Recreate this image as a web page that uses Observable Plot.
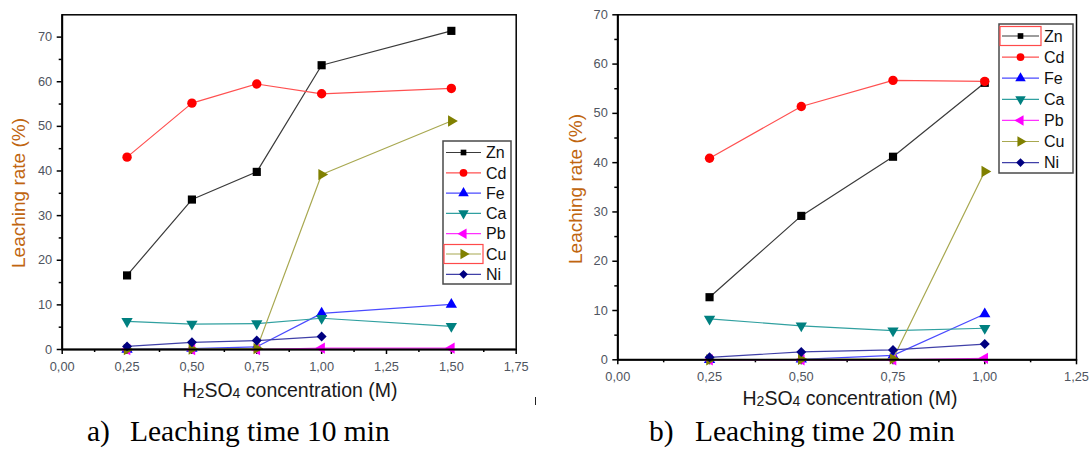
<!DOCTYPE html>
<html><head><meta charset="utf-8">
<script src="https://cdn.jsdelivr.net/npm/d3@7"></script>
<script src="https://cdn.jsdelivr.net/npm/@observablehq/plot@0.6"></script>
<style>
body{margin:0;background:#fff;}
#root{position:relative;width:1092px;height:450px;overflow:hidden;background:#fff;font-family:"Liberation Sans",Arial,sans-serif;}
.xlab{position:absolute;font-size:19.5px;color:#1a1a1a;white-space:nowrap;transform:translate(-50%,-50%);}
.xlab sub{font-size:0.72em;vertical-align:-0.08em;}
.ylab{position:absolute;font-size:19px;color:#c0650f;white-space:nowrap;transform:translate(-50%,-50%) rotate(-90deg);}
.cap{position:absolute;font-family:"Liberation Serif","Times New Roman",serif;font-size:29.5px;line-height:29.5px;color:#000;white-space:nowrap;}
</style></head><body><div id="root"></div>
<script>
// ---------- data ----------
const elements = ["Zn","Cd","Fe","Ca","Pb","Cu","Ni"];

const conc10 = [0.25, 0.5, 0.75, 1.0, 1.5];
const zn10 = [16.6, 33.6, 39.8, 63.7, 71.4];
const cd10 = [43.1, 55.2, 59.5, 57.3, 58.5];
const fe10 = [0.0, 0.2, 0.6, 8.1, 10.1];
const ca10 = [6.3, 5.7, 5.8, 7.0, 5.2];
const pb10 = [0.0, 0.0, 0.0, 0.3, 0.3];
const cu10 = [0.0, 0.1, 0.2, 39.2, 51.2];
const ni10 = [0.7, 1.6, 2.0, 2.9, null];

const conc20 = [0.25, 0.5, 0.75, 1.0];
const zn20 = [12.7, 29.2, 41.2, 56.2];
const cd20 = [40.9, 51.4, 56.7, 56.5];
const fe20 = [0.0, 0.1, 0.9, 9.3];
const ca20 = [8.3, 6.9, 5.9, 6.4];
const pb20 = [0.0, 0.0, 0.0, 0.3];
const cu20 = [0.0, 0.1, 0.2, 38.2];
const ni20 = [0.5, 1.6, 2.0, 3.2];

const xTicks10 = [0, 0.25, 0.5, 0.75, 1.0, 1.25, 1.5, 1.75];
const xMinor10 = [0.125, 0.375, 0.625, 0.875, 1.125, 1.375, 1.625];
const xTicks20 = [0, 0.25, 0.5, 0.75, 1.0, 1.25];
const xMinor20 = [0.125, 0.375, 0.625, 0.875, 1.125];
const yTicks = [0, 10, 20, 30, 40, 50, 60, 70];
const yMinor = [5, 15, 25, 35, 45, 55, 65];

// ---------- styles ----------
function triSym(angle){
  return {draw(ctx, size){
    const y = -Math.sqrt(size / (Math.sqrt(3) * 3));
    const pts = [[0, y*2], [-Math.sqrt(3)*y, -y], [Math.sqrt(3)*y, -y]];
    const a = angle * Math.PI / 180;
    pts.forEach(([px, py], i) => {
      const qx = px*Math.cos(a) - py*Math.sin(a), qy = px*Math.sin(a) + py*Math.cos(a);
      i ? ctx.lineTo(qx, qy) : ctx.moveTo(qx, qy);
    });
    ctx.closePath();
  }};
}
const markColor = {Zn:"#000000", Cd:"#ff0000", Fe:"#0000ff", Ca:"#008080", Pb:"#ff00ff", Cu:"#808000", Ni:"#000080"};
const lineColor = {Zn:"#3a3a3a", Cd:"#ff5050", Fe:"#4a4aff", Ca:"#30a0a0", Pb:"#ff30ff", Cu:"#a8a850", Ni:"#4040a8"};
const symbol = {Zn:"square", Cd:"circle", Fe:triSym(0), Ca:triSym(180), Pb:triSym(-90), Cu:triSym(90), Ni:"diamond2"};
const symR = {Zn:4.6, Cd:4.7, Fe:4.2, Ca:4.2, Pb:4.2, Cu:4.2, Ni:4.5};
const d3sym = {Zn:d3.symbolSquare, Cd:d3.symbolCircle, Fe:triSym(0), Ca:triSym(180), Pb:triSym(-90), Cu:triSym(90), Ni:d3.symbolDiamond2};

function rowsOf(conc, series){
  const out = [];
  elements.forEach((el, k) => series[k].forEach((v, i) => { if (v != null) out.push({el, x: conc[i], y: v}); }));
  return out;
}
const fmtX = d => d.toFixed(2).replace(".", ",");

function panel(opt){
  const rows = rowsOf(opt.conc, opt.series);
  const marks = [
    Plot.axisX({ticks: opt.xTicks, tickSize: 5, tickPadding: 7, tickFormat: fmtX, stroke: "black", fill: "#4f5560", strokeWidth: 1.5, label: null, fontSize: 12.8}),
    Plot.axisX({ticks: opt.xMinor, tickSize: 3, tickFormat: () => "", stroke: "black", strokeWidth: 1.5, label: null}),
    Plot.axisY({ticks: yTicks, tickSize: 5, tickPadding: 5, stroke: "black", fill: "#4f5560", strokeWidth: 1.5, label: null, fontSize: 12.8}),
    Plot.axisY({ticks: yMinor, tickSize: 3, tickFormat: () => "", stroke: "black", strokeWidth: 1.5, label: null}),
    Plot.frame({stroke: "black", strokeWidth: 1.5})
  ];
  elements.forEach(el => {
    const d = rows.filter(r => r.el === el);
    marks.push(Plot.line(d, {x: "x", y: "y", stroke: lineColor[el], strokeWidth: 1.2}));
    marks.push(Plot.dot(d, {x: "x", y: "y", symbol: symbol[el], r: symR[el], fill: markColor[el], stroke: "none"}));
  });
  marks.push(Plot.ruleY([0], {stroke: "black", strokeWidth: 2}));
  marks.push(Plot.ruleX([0], {stroke: "black", strokeWidth: 2}));
  const svg = Plot.plot({
    width: opt.width, height: opt.height,
    marginLeft: opt.ml, marginRight: opt.mr, marginTop: opt.mt, marginBottom: opt.mb,
    x: {domain: [0, opt.xmax]},
    y: {domain: [0, opt.ymax]},
    style: {fontFamily: '"Liberation Sans", Arial, sans-serif', fontSize: "12.8px", background: "transparent", overflow: "visible"},
    marks
  });
  svg.style.position = "absolute";
  svg.style.left = opt.left + "px";
  svg.style.top = "0px";
  return svg;
}

const root = document.getElementById("root");
root.appendChild(panel({left: 0, width: 540, height: 410, ml: 61.7, mr: 24.3, mt: 14.3, mb: 61,
  xmax: 1.75, ymax: 75, xTicks: xTicks10, xMinor: xMinor10, conc: conc10,
  series: [zn10, cd10, fe10, ca10, pb10, cu10, ni10]}));
root.appendChild(panel({left: 540, width: 552, height: 420, ml: 77.3, mr: 16, mt: 14.3, mb: 60.7,
  xmax: 1.25, ymax: 70, xTicks: xTicks20, xMinor: xMinor20, conc: conc20,
  series: [zn20, cd20, fe20, ca20, pb20, cu20, ni20]}));

// ---------- legends ----------
const ov = d3.select(root).append("svg").attr("width", 1092).attr("height", 450)
  .style("position", "absolute").style("left", 0).style("top", 0).style("pointer-events", "none");
function legend(o){
  ov.append("rect").attr("x", o.x0).attr("y", o.y0).attr("width", o.x1 - o.x0).attr("height", o.y1 - o.y0)
    .attr("fill", "white").attr("stroke", "#4a4a4a").attr("stroke-width", 1.5);
  elements.forEach((el, i) => {
    const cy = o.ry + i * o.dy;
    if (el === o.hi) {
      ov.append("rect").attr("x", o.lx0 - 1).attr("y", cy - 9.5).attr("width", o.lx1 - o.lx0 + 2).attr("height", 19)
        .attr("fill", "none").attr("stroke", "#ff4a4a").attr("stroke-width", 1.2);
    }
    ov.append("line").attr("x1", o.lx0 + 1).attr("x2", o.lx1 - 1).attr("y1", cy).attr("y2", cy)
      .attr("stroke", lineColor[el]).attr("stroke-width", 1.2);
    const r = el === "Zn" ? 3.2 : 3.9;
    ov.append("path").attr("d", d3.symbol(d3sym[el], Math.PI * r * r)())
      .attr("transform", `translate(${(o.lx0 + o.lx1) / 2},${cy})`).attr("fill", markColor[el]);
    ov.append("text").attr("x", o.tx).attr("y", cy).attr("dy", "0.36em").text(el)
      .attr("font-family", '"Liberation Sans", Arial, sans-serif').attr("font-size", 16).attr("fill", "#111");
  });
}
legend({x0: 443, x1: 511, y0: 141, y1: 284, ry: 152.5, dy: 20.3, lx0: 445, lx1: 482, tx: 486, hi: "Cu"});
legend({x0: 999, x1: 1073, y0: 24, y1: 173, ry: 36, dy: 21.1, lx0: 1001, lx1: 1040, tx: 1044, hi: "Zn"});

// ---------- axis labels & captions ----------
function addDiv(cls, html, css){
  const d = document.createElement("div");
  d.className = cls; d.innerHTML = html;
  Object.assign(d.style, css);
  root.appendChild(d);
}
const xl = 'H<sub>2</sub>SO<sub>4</sub> concentration (M)';
addDiv("xlab", xl, {left: "290px", top: "390px"});
addDiv("xlab", xl, {left: "850px", top: "398px"});
addDiv("ylab", "Leaching rate (%)", {left: "19px", top: "193px"});
addDiv("ylab", "Leaching rate (%)", {left: "576px", top: "189px"});
addDiv("cap", "a)", {left: "87px", top: "417px"});
addDiv("cap", "Leaching time 10 min", {left: "130px", top: "417px"});
addDiv("cap", "b)", {left: "649px", top: "417px"});
addDiv("cap", "Leaching time 20 min", {left: "695px", top: "417px"});
const tick = document.createElement("div");
Object.assign(tick.style, {position: "absolute", left: "535px", top: "397px", width: "1px", height: "8px", background: "#222"});
root.appendChild(tick);
</script>
</body></html>
